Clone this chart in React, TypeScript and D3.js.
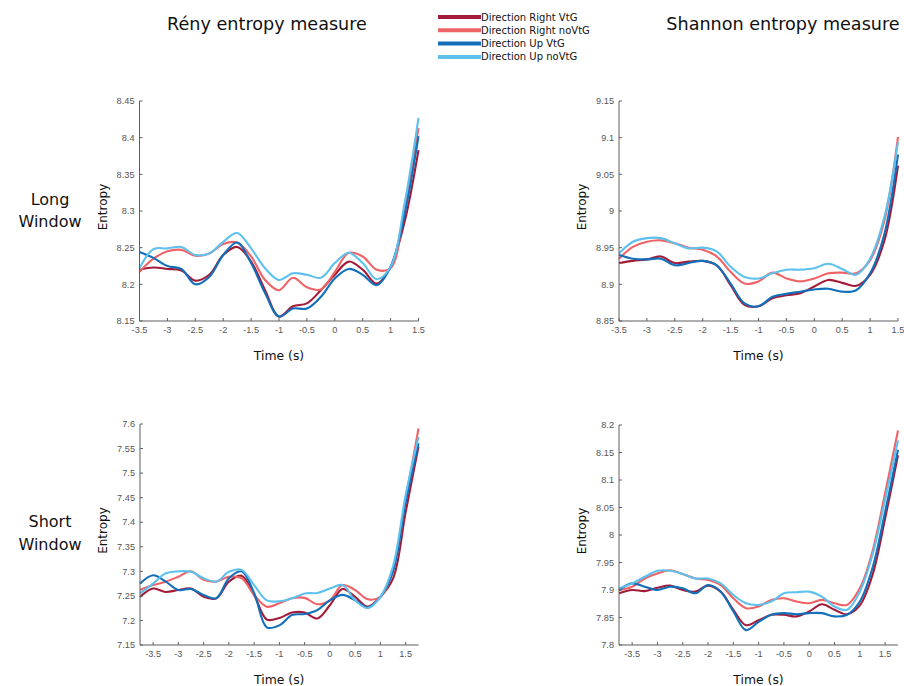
import React from 'react';
import * as d3 from 'd3';

// time points (s)
const timesLong = [-3.5, -3.25, -3, -2.75, -2.5, -2.25, -2, -1.75, -1.5, -1.25, -1, -0.75, -0.5, -0.25, 0, 0.25, 0.5, 0.75, 1, 1.25, 1.5];
const timesShort = [-3.76, -3.5, -3.25, -3, -2.75, -2.5, -2.25, -2, -1.75, -1.5, -1.25, -1, -0.75, -0.5, -0.25, 0, 0.25, 0.5, 0.75, 1, 1.25, 1.5, 1.755];

const seriesNames = ['Direction Right VtG', 'Direction Right noVtG', 'Direction Up VtG', 'Direction Up noVtG'];
const seriesColors = ['#a31b38', '#ef6366', '#1170b9', '#5ec0ec'];

// Rény, long window
const renyLongRightVtG = [8.22, 8.223, 8.221, 8.219, 8.205, 8.213, 8.24, 8.251, 8.231, 8.192, 8.156, 8.17, 8.174, 8.192, 8.213, 8.231, 8.22, 8.201, 8.224, 8.285, 8.383];
const renyLongRightNoVtG = [8.217, 8.235, 8.245, 8.247, 8.239, 8.242, 8.255, 8.257, 8.238, 8.206, 8.192, 8.209, 8.196, 8.193, 8.217, 8.243, 8.238, 8.22, 8.222, 8.305, 8.413];
const renyLongUpVtG = [8.244, 8.236, 8.225, 8.221, 8.2, 8.21, 8.24, 8.257, 8.229, 8.188, 8.156, 8.167, 8.167, 8.183, 8.208, 8.221, 8.213, 8.199, 8.224, 8.295, 8.402];
const renyLongUpNoVtG = [8.222, 8.248, 8.249, 8.251, 8.24, 8.242, 8.258, 8.27, 8.249, 8.222, 8.206, 8.215, 8.213, 8.209, 8.229, 8.243, 8.229, 8.207, 8.224, 8.31, 8.427];

// Shannon, long window
const shanLongRightVtG = [8.929, 8.932, 8.934, 8.938, 8.929, 8.931, 8.932, 8.926, 8.899, 8.872, 8.87, 8.881, 8.885, 8.888, 8.897, 8.906, 8.902, 8.898, 8.913, 8.958, 9.062];
const shanLongRightNoVtG = [8.935, 8.951, 8.958, 8.96, 8.956, 8.95, 8.947, 8.938, 8.917, 8.901, 8.904, 8.916, 8.908, 8.904, 8.908, 8.915, 8.916, 8.915, 8.933, 8.985, 9.101];
const shanLongUpVtG = [8.94, 8.935, 8.934, 8.935, 8.926, 8.929, 8.932, 8.926, 8.901, 8.874, 8.87, 8.883, 8.887, 8.89, 8.893, 8.894, 8.89, 8.892, 8.915, 8.967, 9.077];
const shanLongUpNoVtG = [8.942, 8.958, 8.963, 8.963, 8.956, 8.949, 8.95, 8.945, 8.924, 8.91, 8.908, 8.915, 8.92, 8.92, 8.922, 8.928, 8.921, 8.913, 8.935, 8.99, 9.094];

// Rény, short window
const renyShortRightVtG = [7.248, 7.265, 7.258, 7.262, 7.265, 7.248, 7.245, 7.279, 7.291, 7.252, 7.202, 7.205, 7.216, 7.216, 7.204, 7.231, 7.264, 7.248, 7.228, 7.248, 7.285, 7.42, 7.554];
const renyShortRightNoVtG = [7.262, 7.272, 7.279, 7.289, 7.3, 7.283, 7.279, 7.289, 7.286, 7.252, 7.228, 7.235, 7.245, 7.246, 7.233, 7.241, 7.272, 7.262, 7.243, 7.248, 7.3, 7.445, 7.591];
const renyShortUpVtG = [7.275, 7.292, 7.279, 7.262, 7.264, 7.252, 7.245, 7.286, 7.3, 7.256, 7.186, 7.19, 7.211, 7.213, 7.221, 7.241, 7.252, 7.241, 7.226, 7.248, 7.3, 7.44, 7.561];
const renyShortUpNoVtG = [7.255, 7.275, 7.296, 7.3, 7.299, 7.286, 7.279, 7.299, 7.303, 7.272, 7.241, 7.239, 7.245, 7.255, 7.256, 7.265, 7.272, 7.241, 7.225, 7.248, 7.31, 7.455, 7.574];

// Shannon, short window
const shanShortRightVtG = [7.894, 7.9, 7.898, 7.904, 7.908, 7.9, 7.897, 7.908, 7.897, 7.864, 7.836, 7.845, 7.855, 7.855, 7.852, 7.861, 7.874, 7.864, 7.856, 7.872, 7.927, 8.03, 8.145];
const shanShortRightNoVtG = [7.9, 7.906, 7.921, 7.93, 7.936, 7.929, 7.921, 7.918, 7.909, 7.885, 7.867, 7.87, 7.882, 7.885, 7.879, 7.876, 7.882, 7.876, 7.873, 7.903, 7.97, 8.076, 8.19];
const shanShortUpVtG = [7.9, 7.912, 7.906, 7.9, 7.906, 7.903, 7.894, 7.909, 7.897, 7.861, 7.827, 7.842, 7.855, 7.858, 7.856, 7.858, 7.858, 7.852, 7.855, 7.879, 7.94, 8.042, 8.155];
const shanShortUpNoVtG = [7.903, 7.912, 7.924, 7.935, 7.935, 7.929, 7.921, 7.921, 7.912, 7.891, 7.876, 7.873, 7.879, 7.894, 7.896, 7.897, 7.888, 7.87, 7.864, 7.897, 7.964, 8.064, 8.172];

// tick values
const xTicks = [-3.5, -3, -2.5, -2, -1.5, -1, -0.5, 0, 0.5, 1, 1.5];
const renyLongTicks = [8.15, 8.2, 8.25, 8.3, 8.35, 8.4, 8.45];
const shanLongTicks = [8.85, 8.9, 8.95, 9, 9.05, 9.1, 9.15];
const renyShortTicks = [7.15, 7.2, 7.25, 7.3, 7.35, 7.4, 7.45, 7.5, 7.55, 7.6];
const shanShortTicks = [7.8, 7.85, 7.9, 7.95, 8, 8.05, 8.1, 8.15, 8.2];

const panels = [
  { left: 139.5, right: 418.5, top: 101, bottom: 321, xDomain: [-3.5, 1.5], yDomain: [8.15, 8.45], yTicks: renyLongTicks, times: timesLong,
    series: [renyLongRightVtG, renyLongRightNoVtG, renyLongUpVtG, renyLongUpNoVtG] },
  { left: 619, right: 898, top: 101, bottom: 321, xDomain: [-3.5, 1.5], yDomain: [8.85, 9.15], yTicks: shanLongTicks, times: timesLong,
    series: [shanLongRightVtG, shanLongRightNoVtG, shanLongUpVtG, shanLongUpNoVtG] },
  { left: 140, right: 418.5, top: 424, bottom: 645, xDomain: [-3.76, 1.755], yDomain: [7.15, 7.6], yTicks: renyShortTicks, times: timesShort,
    series: [renyShortRightVtG, renyShortRightNoVtG, renyShortUpVtG, renyShortUpNoVtG] },
  { left: 619, right: 898, top: 425, bottom: 645, xDomain: [-3.76, 1.755], yDomain: [7.8, 8.2], yTicks: shanShortTicks, times: timesShort,
    series: [shanShortRightVtG, shanShortRightNoVtG, shanShortUpVtG, shanShortUpNoVtG] },
];

const fmt = (v: number) => String(+v.toFixed(2));
const axisColor = '#5e5e5e';
const labelFont = '"DejaVu Sans", Verdana, sans-serif';
const tickFont = '"Liberation Sans", Arial, sans-serif';

function Panel({ p }: { p: any }) {
  const x = d3.scaleLinear().domain(p.xDomain).range([p.left, p.right]);
  const y = d3.scaleLinear().domain(p.yDomain).range([p.bottom, p.top]);
  const lineFn = d3.line<number>()
    .x((_, i) => x(p.times[i]))
    .y(d => y(d))
    .curve(d3.curveCatmullRom.alpha(0.5));
  const midY = (p.top + p.bottom) / 2;
  return (
    <g>
      {p.series.map((s: number[], i: number) => (
        <path key={i} d={lineFn(s) || ''} fill="none" stroke={seriesColors[i]} strokeWidth={2.1} strokeLinejoin="round" />
      ))}
      <line x1={p.left} x2={p.left} y1={p.top} y2={p.bottom} stroke={axisColor} strokeWidth={1} />
      <line x1={p.left} x2={p.right} y1={p.bottom} y2={p.bottom} stroke={axisColor} strokeWidth={1} />
      {p.yTicks.map((t: number) => (
        <g key={'y' + t}>
          <line x1={p.left} x2={p.left + 3} y1={y(t)} y2={y(t)} stroke={axisColor} />
          <text x={p.left - 5} y={y(t)} dy="0.35em" textAnchor="end" fontSize={9.2} fill="#555"
            fontFamily={tickFont}>{fmt(t)}</text>
        </g>
      ))}
      {xTicks.map(t => (
        <g key={'x' + t}>
          <line x1={x(t)} x2={x(t)} y1={p.bottom} y2={p.bottom - 3} stroke={axisColor} />
          <text x={x(t)} y={p.bottom + 12} textAnchor="middle" fontSize={9.2} fill="#555"
            fontFamily={tickFont}>{fmt(t)}</text>
        </g>
      ))}
      <text transform={`translate(${p.left - 33},${midY - 4}) rotate(-90)`} textAnchor="middle" fontSize={12}
        fontFamily={labelFont} fill="#111">Entropy</text>
      <text x={(p.left + p.right) / 2} y={p.bottom + 39} textAnchor="middle" fontSize={12.4}
        fontFamily={labelFont} fill="#111">Time (s)</text>
    </g>
  );
}

export default function App() {
  return (
    <svg width={904} height={686} style={{ display: 'block', position: 'absolute', left: 0, top: 0, background: '#fff' }}>
      <rect width={904} height={686} fill="#fff" />
      <text x={267} y={30} textAnchor="middle" fontSize={17.6} fontFamily={labelFont} fill="#111">Rény entropy measure</text>
      <text x={783} y={30} textAnchor="middle" fontSize={17.6} fontFamily={labelFont} fill="#111">Shannon entropy measure</text>

      <text x={50} y={205} textAnchor="middle" fontSize={16} fontFamily={labelFont} fill="#111">Long</text>
      <text x={50} y={227} textAnchor="middle" fontSize={16} fontFamily={labelFont} fill="#111">Window</text>
      <text x={50} y={527} textAnchor="middle" fontSize={16} fontFamily={labelFont} fill="#111">Short</text>
      <text x={50} y={550} textAnchor="middle" fontSize={16} fontFamily={labelFont} fill="#111">Window</text>

      {seriesNames.map((name, i) => (
        <g key={name}>
          <line x1={438} x2={481} y1={17 + i * 13.3} y2={17 + i * 13.3} stroke={seriesColors[i]} strokeWidth={4} />
          <text x={481} y={17 + i * 13.3} dy="0.35em" fontSize={10} fontFamily={labelFont} fill="#111">{name}</text>
        </g>
      ))}

      {panels.map((p, i) => <Panel key={i} p={p} />)}
    </svg>
  );
}
